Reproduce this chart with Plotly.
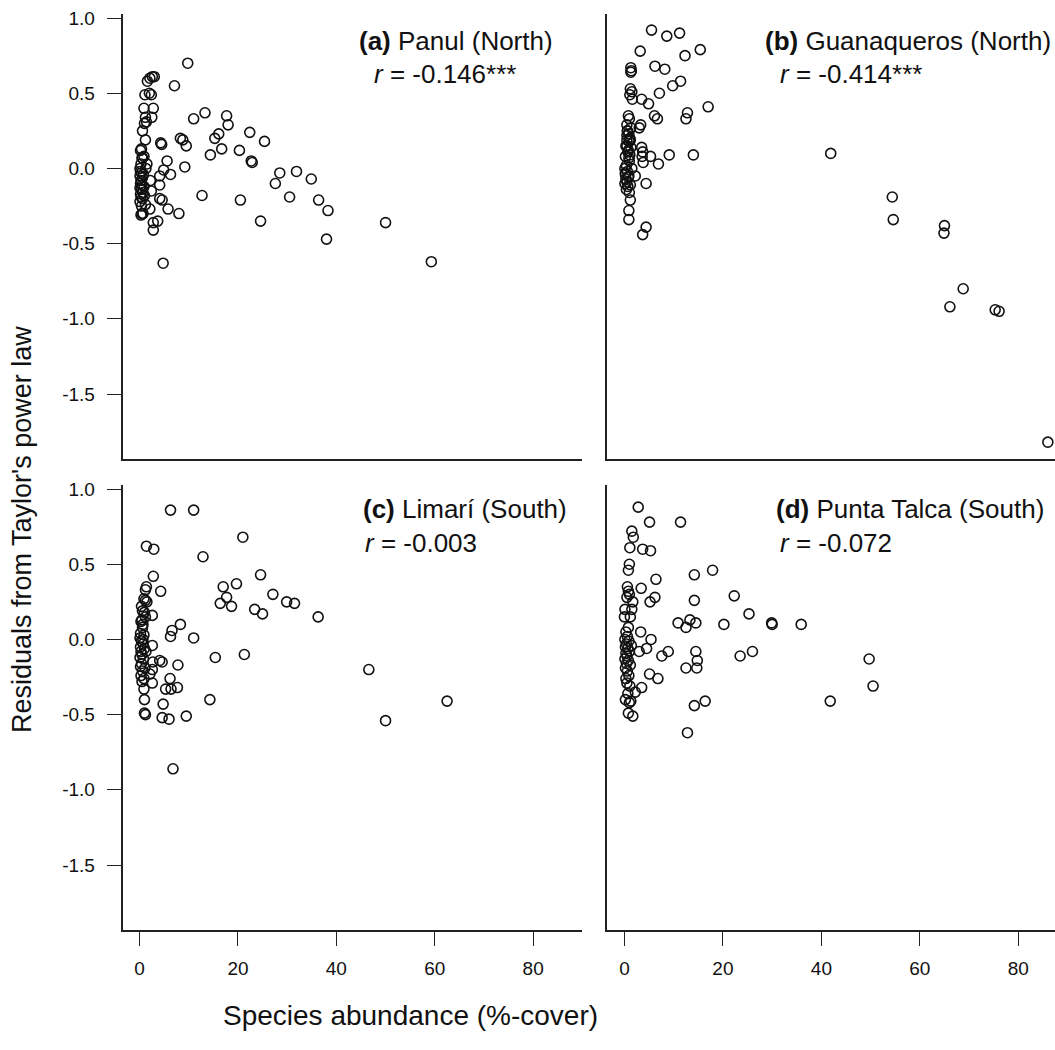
import plotly.graph_objects as go

# ---------------- data ----------------
# (a) Panul (North)
a_x = [9.8, 7.1, 1.6, 2.1, 2.6, 3.0, 1.1, 2.0, 2.4, 0.9, 2.8, 1.2, 2.5, 1.0, 1.4, 0.6, 1.2, 0.4, 0.6, 0.9, 1.5,
       4.3, 4.5, 5.6, 4.9, 4.1, 6.3, 2.2, 4.1, 2.4, 4.1, 4.6, 2.1, 5.8, 8.0, 0.7, 2.8, 3.7, 2.8, 4.8,
       8.3, 8.8, 9.5, 9.2, 11.0, 13.3, 12.7, 14.4, 15.3, 16.1, 16.7, 17.7, 18.0, 20.3, 20.5, 22.4, 22.7, 22.9,
       24.6, 25.4, 27.6, 28.5, 30.5, 31.9, 34.9, 36.4, 38.3, 38.0, 50.0, 59.3,
       0.2, 0.5, 0.3, 0.1, 0.2, 0.4, 0.1, 0.6, 0.3, 0.2, 0.5, 0.1, 0.4, 0.7, 0.2, 0.3, 0.6, 0.1, 0.9, 1.0,
       0.4, 0.5, 0.3, 1.2, 0.8, 1.3]
a_y = [0.70, 0.55, 0.58, 0.60, 0.61, 0.61, 0.49, 0.50, 0.49, 0.40, 0.40, 0.34, 0.34, 0.30, 0.31, 0.25, 0.19, 0.13, 0.07, 0.08, 0.03,
       0.17, 0.16, 0.05, -0.01, -0.05, -0.04, -0.08, -0.11, -0.15, -0.20, -0.21, -0.27, -0.27, -0.30, -0.30, -0.36, -0.35, -0.41, -0.63,
       0.20, 0.19, 0.15, 0.01, 0.33, 0.37, -0.18, 0.09, 0.20, 0.23, 0.13, 0.35, 0.29, 0.12, -0.21, 0.24, 0.05, 0.04,
       -0.35, 0.18, -0.10, -0.03, -0.19, -0.02, -0.07, -0.21, -0.28, -0.47, -0.36, -0.62,
       0.12, 0.07, 0.03, 0.00, -0.02, -0.03, -0.05, -0.06, -0.08, -0.10, -0.11, -0.13, -0.14, -0.16, -0.17, -0.19, -0.20, -0.22, -0.12, -0.18,
       -0.25, -0.30, -0.31, -0.24, -0.04, 0.00]

# (b) Guanaqueros (North)
b_x = [5.5, 8.6, 11.2, 3.2, 12.3, 15.4, 1.3, 1.4, 1.3, 6.2, 8.2, 9.8, 11.4, 7.1, 1.2, 1.5, 1.1, 1.6, 3.5, 4.9,
       17.0, 6.1, 6.7, 12.8, 12.5, 0.8, 1.0, 3.3, 3.0, 0.5, 1.3, 0.6, 0.9, 0.5, 1.0, 1.2, 0.5, 0.7, 1.1, 0.9,
       3.5, 3.7, 3.6, 5.3, 3.8, 6.9, 9.1, 14.0, 2.2, 4.4, 1.0, 1.2, 0.9, 0.9, 4.4, 3.7,
       41.9, 54.4, 54.6, 65.0, 64.9, 68.8, 66.1, 75.3, 76.1, 86.0,
       0.5, 1.1, 0.3, 0.8, 0.2, 1.0, 0.4, 0.1, 0.6, 0.2, 0.9, 0.3, 0.5, 0.1, 1.2, 0.7, 0.4, 0.2, 0.8, 1.5, 0.6, 1.3]
b_y = [0.92, 0.88, 0.90, 0.78, 0.75, 0.79, 0.67, 0.65, 0.64, 0.68, 0.66, 0.55, 0.58, 0.50, 0.53, 0.51, 0.49, 0.46, 0.46, 0.43,
       0.41, 0.35, 0.33, 0.37, 0.33, 0.35, 0.33, 0.29, 0.27, 0.29, 0.27, 0.25, 0.23, 0.19, 0.18, 0.19, 0.15, 0.11, 0.09, 0.07,
       0.14, 0.11, 0.08, 0.08, 0.04, 0.03, 0.09, 0.09, -0.05, -0.10, -0.16, -0.21, -0.28, -0.34, -0.39, -0.44,
       0.10, -0.19, -0.34, -0.38, -0.43, -0.80, -0.92, -0.94, -0.95, -1.82,
       0.22, 0.20, 0.15, 0.12, 0.08, 0.05, 0.02, 0.00, -0.02, -0.04, -0.05, -0.07, -0.09, -0.10, -0.11, -0.12, -0.14, -0.03, -0.06, 0.00, 0.25, 0.14]

# (c) Limarí (South)
c_x = [6.3, 11.0, 21.0, 1.4, 2.9, 12.9, 2.8, 24.6, 4.3, 1.4, 1.2, 17.0, 19.7, 17.7, 16.4, 18.7, 27.1, 29.9, 31.5,
       23.4, 25.0, 36.3, 0.9, 1.2, 1.5, 0.6, 1.0, 2.6, 0.5, 0.7, 8.3, 6.6, 6.3, 11.0, 2.6, 15.4, 21.3, 4.1, 4.6, 2.7,
       7.8, 2.6, 2.1, 6.2, 5.3, 6.4, 7.7, 2.6, 0.9, 1.0, 14.3, 4.8, 1.0, 1.2, 4.6, 6.0, 9.5, 6.8,
       46.6, 62.5, 50.0,
       0.3, 0.6, 0.2, 0.9, 0.1, 0.4, 0.7, 0.2, 1.0, 0.3, 0.5, 0.1, 0.8, 0.4, 0.2, 1.1, 0.6, 0.3, 0.9, 0.5, 1.3, 0.7, 1.2, 0.4]
c_y = [0.86, 0.86, 0.68, 0.62, 0.60, 0.55, 0.42, 0.43, 0.32, 0.35, 0.33, 0.35, 0.37, 0.28, 0.24, 0.22, 0.30, 0.25, 0.24,
       0.20, 0.17, 0.15, 0.27, 0.26, 0.25, 0.19, 0.18, 0.16, 0.13, 0.10, 0.10, 0.06, 0.02, 0.01, -0.04, -0.12, -0.10, -0.14, -0.15, -0.15,
       -0.17, -0.20, -0.23, -0.26, -0.33, -0.33, -0.32, -0.29, -0.33, -0.40, -0.40, -0.43, -0.49, -0.50, -0.52, -0.53, -0.51, -0.86,
       -0.20, -0.41, -0.54,
       0.12, 0.08, 0.04, 0.03, 0.01, -0.01, -0.03, -0.05, -0.06, -0.08, -0.10, -0.12, -0.13, -0.16, -0.18, -0.19, -0.21, -0.24, -0.26, -0.28, -0.08, 0.00, 0.15, 0.22]

# (d) Punta Talca (South)
d_x = [2.8, 5.1, 11.4, 1.5, 1.8, 1.1, 3.7, 5.3, 1.0, 0.8, 14.2, 17.9, 6.4, 3.4, 0.6, 0.8, 1.0, 0.5, 6.2, 5.2, 14.2,
       22.3, 1.7, 0.1, 1.5, 25.3, 1.2, 0.0, 10.9, 12.5, 13.3, 14.5, 20.2, 29.9, 30.0, 35.9, 3.3, 5.4, 4.5, 3.0,
       8.9, 7.6, 14.5, 14.8, 14.7, 12.5, 23.5, 26.0, 5.1, 6.8, 3.5, 2.2, 1.0, 1.3, 14.2, 16.4, 0.8, 1.7, 12.8,
       49.7, 50.5, 41.8,
       0.3, 0.6, 0.1, 0.9, 0.4, 0.2, 0.7, 1.0, 0.3, 0.5, 0.1, 0.8, 0.4, 1.2, 0.2, 0.6, 0.9, 0.3, 0.5, 1.1, 0.7, 0.2, 1.4, 0.8]
d_y = [0.88, 0.78, 0.78, 0.72, 0.68, 0.61, 0.60, 0.59, 0.50, 0.46, 0.43, 0.46, 0.40, 0.34, 0.35, 0.32, 0.30, 0.28, 0.28, 0.25, 0.26,
       0.29, 0.25, 0.20, 0.20, 0.17, 0.15, 0.15, 0.11, 0.08, 0.13, 0.11, 0.10, 0.11, 0.10, 0.10, 0.05, 0.00, -0.06, -0.08,
       -0.08, -0.11, -0.08, -0.14, -0.19, -0.19, -0.11, -0.08, -0.23, -0.26, -0.32, -0.35, -0.42, -0.41, -0.44, -0.41, -0.49, -0.51, -0.62,
       -0.13, -0.31, -0.41,
       0.05, 0.02, 0.00, -0.01, -0.03, -0.05, -0.06, -0.08, -0.09, -0.11, -0.13, -0.14, -0.16, -0.17, -0.19, -0.21, -0.24, -0.26, -0.29, -0.31, -0.36, -0.40, -0.04, 0.08]

panel_titles = ["<b>(a)</b> Panul (North)", "<b>(b)</b> Guanaqueros (North)",
                "<b>(c)</b> Limarí (South)", "<b>(d)</b> Punta Talca (South)"]
panel_r = ["<i>r</i> = -0.146***", "<i>r</i> = -0.414***", "<i>r</i> = -0.003", "<i>r</i> = -0.072"]

x_ticks = [0, 20, 40, 60, 80]
x_tick_labels = ["0", "20", "40", "60", "80"]
y_ticks = [1.0, 0.5, 0.0, -0.5, -1.0, -1.5]
y_tick_labels = ["1.0", "0.5", "0.0", "-0.5", "-1.0", "-1.5"]

x_title = "Species abundance (%-cover)"
y_title = "Residuals from Taylor's power law"

# ---------------- layout geometry ----------------
W, H = 1055, 1050
FONT = "Liberation Sans, Arial, Helvetica, sans-serif"
INK = "#111111"

def px(x):
    return x / W

def py(y):
    return 1 - y / H

xdom_left = [px(122.5), px(581.7)]
xdom_right = [px(607.4), 1.0]
ydom_top = [py(459), py(14)]
ydom_bot = [py(930), py(485)]

xr_left = [-3.46, 89.86]
xr_right = [-3.46, 87.45]
yr = [-1.932, 1.027]

fig = go.Figure()

series = [(a_x, a_y), (b_x, b_y), (c_x, c_y), (d_x, d_y)]
for i, (xs, ys) in enumerate(series):
    k = "" if i == 0 else str(i + 1)
    fig.add_trace(go.Scatter(
        x=xs, y=ys, mode="markers", xaxis="x" + k, yaxis="y" + k,
        marker=dict(symbol="circle-open", size=10, color=INK, line=dict(width=1.6, color=INK)),
        cliponaxis=False, showlegend=False, hoverinfo="skip"))

axis_common = dict(showgrid=False, zeroline=False, showline=True, linecolor="#222222",
                   linewidth=1.6, automargin=False, fixedrange=True)

def xax(dom, rng, anchor, with_ticks):
    d = dict(axis_common, domain=dom, range=rng, anchor=anchor)
    if with_ticks:
        d.update(ticks="outside", ticklen=14, tickwidth=1.3, tickcolor="#222222",
                 tickvals=x_ticks, ticktext=x_tick_labels, showticklabels=True,
                 tickfont=dict(family=FONT, size=19, color=INK), ticklabelstandoff=6)
    else:
        d.update(ticks="", showticklabels=False)
    return d

def yax(dom, anchor, with_ticks):
    d = dict(axis_common, domain=dom, range=yr, anchor=anchor)
    if with_ticks:
        d.update(ticks="outside", ticklen=14, tickwidth=1.3, tickcolor="#222222",
                 tickvals=y_ticks, ticktext=y_tick_labels, showticklabels=True,
                 tickfont=dict(family=FONT, size=19, color=INK), ticklabelstandoff=8)
    else:
        d.update(ticks="", showticklabels=False)
    return d

annotations = []
title_pos = [(357, 41), (763, 41), (361, 509), (774, 509)]
r_pos = [(372, 74), (778, 74), (363, 543), (778, 543)]
for i in range(4):
    annotations.append(dict(text=panel_titles[i], xref="paper", yref="paper",
                            x=px(title_pos[i][0]), y=py(title_pos[i][1]),
                            xanchor="left", yanchor="middle", showarrow=False,
                            font=dict(family=FONT, size=26, color=INK)))
    annotations.append(dict(text=panel_r[i], xref="paper", yref="paper",
                            x=px(r_pos[i][0]), y=py(r_pos[i][1]),
                            xanchor="left", yanchor="middle", showarrow=False,
                            font=dict(family=FONT, size=26, color=INK)))

annotations.append(dict(text=x_title, xref="paper", yref="paper", x=px(410), y=py(1015),
                        xanchor="center", yanchor="middle", showarrow=False,
                        font=dict(family=FONT, size=28, color=INK)))
annotations.append(dict(text=y_title, xref="paper", yref="paper", x=px(22), y=py(530),
                        xanchor="center", yanchor="middle", showarrow=False, textangle=-90,
                        font=dict(family=FONT, size=27, color=INK)))

fig.update_layout(
    width=W, height=H,
    margin=dict(l=0, r=0, t=0, b=0),
    paper_bgcolor="white", plot_bgcolor="white",
    font=dict(family=FONT, color=INK),
    xaxis=xax(xdom_left, xr_left, "y", False),
    yaxis=yax(ydom_top, "x", True),
    xaxis2=xax(xdom_right, xr_right, "y2", False),
    yaxis2=yax(ydom_top, "x2", False),
    xaxis3=xax(xdom_left, xr_left, "y3", True),
    yaxis3=yax(ydom_bot, "x3", True),
    xaxis4=xax(xdom_right, xr_right, "y4", True),
    yaxis4=yax(ydom_bot, "x4", False),
    annotations=annotations,
)

fig.write_html("out.html", config={"displayModeBar": False},
               post_script="document.body.style.margin='0';document.body.style.overflow='hidden';")
